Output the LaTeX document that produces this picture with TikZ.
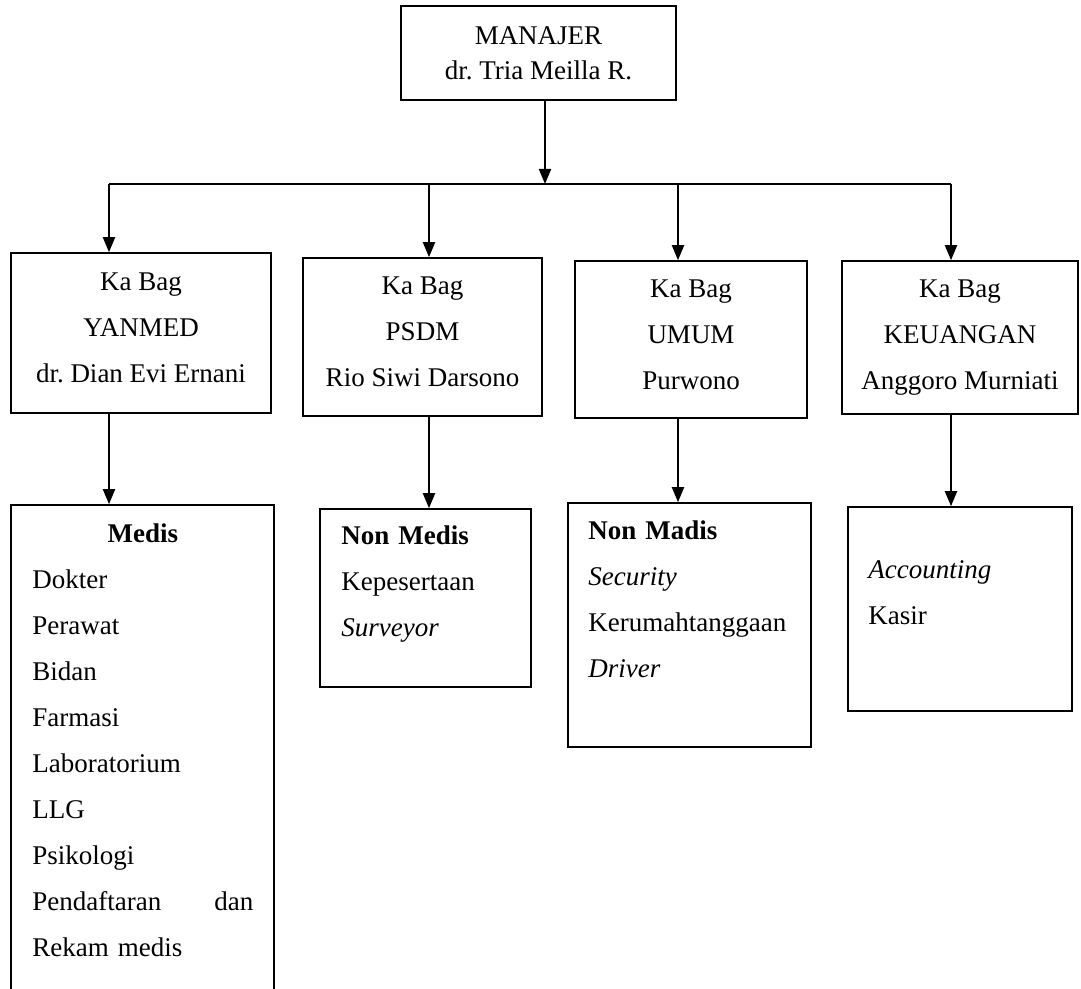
\documentclass[tikz,border=0pt]{standalone}
\usepackage{fontspec}
\setmainfont{Liberation Serif}
\usetikzlibrary{positioning}
\usetikzlibrary{arrows.meta}

\tikzset{
  box/.style={draw, line width=0.8pt, inner sep=0pt},
  kabag/.style={box, align=center, font=\fontsize{13.5}{23}\selectfont},
  txt/.style={inner sep=0pt, align=left, anchor=base west, font=\fontsize{13.5}{23}\selectfont},
  arr/.style={line width=1pt, -{Triangle[length=7.5pt,width=6pt]}},
}
\frenchspacing

\begin{document}
\begin{tikzpicture}[x=0.5pt, y=-0.5pt]
  \useasboundingbox (0,0) rectangle (1081,989);
  \clip (0,0) rectangle (1081,989);

  % manajer
  \node[box, align=center, font=\fontsize{13.5}{17.5}\selectfont, minimum width=137.5pt, minimum height=47pt] (manajer) at (538.5,53) {MANAJER\\dr. Tria Meilla R.};

  % ka bag
  \node[kabag, minimum width=130pt, minimum height=80pt] (yanmed) at (141,333) {Ka Bag\\YANMED\\dr. Dian Evi Ernani\rule[-5pt]{0pt}{0pt}};
  \node[kabag, minimum width=119.5pt, minimum height=79pt] (psdm) at (422.5,337) {Ka Bag\\PSDM\\Rio Siwi Darsono\rule[-5pt]{0pt}{0pt}};
  \node[kabag, minimum width=116pt, minimum height=78.5pt] (umum) at (691,339.5) {Ka Bag\\UMUM\\Purwono\rule[-5pt]{0pt}{0pt}};
  \node[kabag, minimum width=118pt, minimum height=76.5pt] (keuangan) at (960,337.5) {Ka Bag\\KEUANGAN\\Anggoro Murniati};

  % staff boxes
  \node[box, minimum width=131.5pt, minimum height=252.5pt] (medis) at (142.5,757.5) {};
  \node[box, minimum width=105.5pt, minimum height=89pt] (nonmedis) at (425.5,598) {};
  \node[box, minimum width=121.5pt, minimum height=122pt] (nonmadis) at (689.5,625) {};
  \node[box, minimum width=112pt, minimum height=102pt] (akun) at (960,609) {};

  \node[txt, text width=110.5pt] (medisT) at (32,542) {\hfill\textbf{Medis}\hfill\mbox{}\\Dokter\\Perawat\\Bidan\\Farmasi\\Laboratorium\\LLG\\Psikologi\\Pendaftaran\hfill dan\\Rekam medis};
  \node[txt, text width=90pt] (nonmedisT) at (341,544) {\textbf{Non Medis}\\Kepesertaan\\\textit{Surveyor}};
  \node[txt, text width=110pt] (nonmadisT) at (588,539) {\textbf{Non Madis}\\\textit{Security}\\Kerumahtanggaan\\\textit{Driver}};
  \node[txt, text width=100pt] (akunT) at (868,578) {\textit{Accounting}\\Kasir};

  % connectors
  \coordinate (b0) at (545,184);
  \coordinate (b1) at (109,184);
  \coordinate (b2) at (429,184);
  \coordinate (b3) at (678,184);
  \coordinate (b4) at (951,184);

  \draw[line width=1pt] (b1) -- (b4);
  \draw[arr] (manajer.south -| b0) -- (b0);
  \draw[arr] (b1) -- (b1 |- yanmed.north);
  \draw[arr] (b2) -- (b2 |- psdm.north);
  \draw[arr] (b3) -- (b3 |- umum.north);
  \draw[arr] (b4) -- (b4 |- keuangan.north);

  \draw[arr] (yanmed.south -| b1) -- (medis.north -| b1);
  \draw[arr] (psdm.south -| b2) -- (nonmedis.north -| b2);
  \draw[arr] (umum.south -| b3) -- (nonmadis.north -| b3);
  \draw[arr] (keuangan.south -| b4) -- (akun.north -| b4);

\end{tikzpicture}
\end{document}
